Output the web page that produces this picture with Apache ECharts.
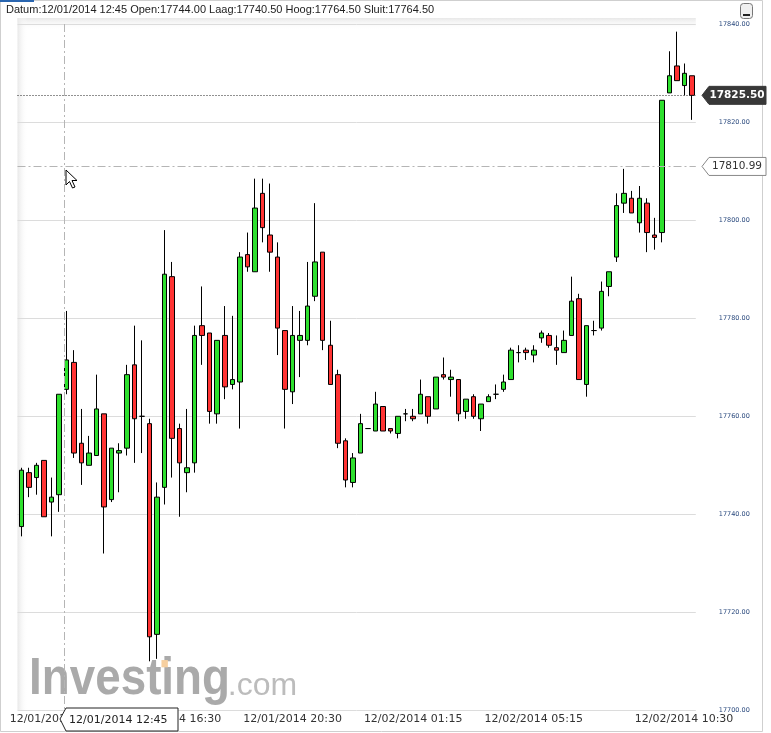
<!DOCTYPE html>
<html><head><meta charset="utf-8">
<script src="https://cdn.jsdelivr.net/npm/echarts@6/dist/echarts.min.js"></script>
<style>html,body{margin:0;padding:0;background:#fff}#c{width:771px;height:733px}</style>
</head><body><div id="c"></div>
<script>
// ---- data ----
const opens  = [17737.5,17748.5,17747.5,17751,17742.5,17744,17765.5,17771,17754.5,17750,
                17752,17760.5,17743,17752.5,17753.5,17770.5,17760,17758.5,17715.5,17745.5,
                17788.5,17757.5,17748.5,17750.5,17778.5,17777,17760.5,17776.5,17766.5,17767,
                17793,17789.5,17805.5,17797,17792.5,17777.5,17765,17775.5,17775.5,17784.5,
                17793.5,17774.5,17768.5,17755,17746.5,17752.5,17757.5,17757,17762,17757.5,
                17756.5,17760.5,17760,17760.5,17764,17761.5,17768.5,17767.5,17767.5,17761,
                17764,17759.5,17763,17764.5,17765.5,17767.5,17773,17773.5,17772.5,17776,
                17776.5,17774,17773,17776.5,17784,17766.5,17777.5,17778,17786.5,17792.5,
                17803.5,17804.5,17799.5,17803.5,17797,17797.5,17826,17831.5,17827.5,17829.5];
const closes = [17749,17745.5,17750,17739.5,17743.5,17764.5,17771.5,17752.5,17750.5,17752.5,
                17761.5,17741.5,17753.5,17753,17768.5,17759.5,17760,17715,17743.5,17789,
                17755.5,17750.5,17749.5,17776.5,17776.5,17761,17775.5,17766,17767.5,17792.5,
                17790.5,17802.5,17798.5,17793.5,17778,17765.5,17776.5,17776.5,17782.5,17791.5,
                17775.5,17766.5,17754.5,17747,17751.5,17758.5,17757.5,17762.5,17757,17757,
                17760,17760.5,17759.5,17764.5,17760,17768,17768,17768,17760.5,17763.5,
                17760,17762.5,17764,17764.5,17767,17773.5,17773,17773,17773.5,17777,
                17774.5,17773.5,17775.5,17783.5,17767.5,17778.5,17777.5,17785.5,17789.5,17803,
                17805.5,17801.5,17804.5,17797.5,17796.5,17824.5,17829.5,17828.5,17830,17825.5];
const lows   = [17735.5,17743.5,17744,17739.5,17735.5,17740.5,17764.5,17751.5,17746,17750,
                17752,17732,17742.5,17744.5,17752,17750.5,17752.5,17710,17710.5,17742,
                17747.5,17739.5,17744.5,17748.5,17770.5,17758.5,17758.5,17763.5,17765.5,17757.5,
                17789.5,17789.5,17795.5,17789.5,17772.5,17757.5,17762.5,17768,17774.5,17783.5,
                17773.5,17766.5,17753.5,17745.5,17745.5,17752.5,17757.5,17757,17757,17756.5,
                17755.5,17759,17759,17760.5,17758.5,17761.5,17767.5,17764,17759,17759.5,
                17759.5,17757,17763,17763.5,17765,17767.5,17771,17771.5,17771,17775,
                17774,17770.5,17773,17776.5,17767.5,17764,17776.5,17777.5,17784.5,17791.5,
                17801.5,17801.5,17797.5,17793.5,17794,17795.5,17826,17828.5,17825.5,17820.5];
const highs  = [17749.5,17749.5,17750.5,17751,17747.5,17764.5,17781.5,17773.5,17761.5,17756,
                17768.5,17760.5,17753.5,17754.5,17770.5,17778.5,17775.5,17759.5,17746.5,17798,
                17791.5,17758.5,17761.5,17778.5,17786.5,17777,17775.5,17782.5,17780.5,17793.5,
                17797.5,17808.5,17808.5,17807.5,17795.5,17777.5,17782.5,17781.5,17791.5,17803.5,
                17793.5,17779.5,17769.5,17755.5,17752.5,17760.5,17757.5,17765,17762,17757.5,
                17760,17761.5,17761.5,17767.5,17764,17768,17772,17769.5,17767.5,17763.5,
                17764.5,17762.5,17764.5,17766.5,17768.5,17774,17774.5,17774,17774.5,17777.5,
                17777,17776.5,17777.5,17788.5,17785,17778.5,17779.5,17787.5,17789.5,17805.5,
                17810.5,17806,17807,17804.5,17800.5,17824.5,17834.5,17838.5,17832,17829.5];
// 15-minute bars; session break 23:15-23:45
const sessions = [{date:'12/01/2014', h:11, m:30, n:47}, {date:'12/02/2014', h:0, m:0, n:43}];
const labelIndices = [5, 20, 36, 52, 68, 89];
const yTicks = [17700, 17720, 17740, 17760, 17780, 17800, 17820, 17840];
const lastPrice = 17825.50;
const crossPrice = 17810.99;
const headerText = 'Datum:12/01/2014 12:45 Open:17744.00 Laag:17740.50 Hoog:17764.50 Sluit:17764.50';
const pointerLabel = '12/01/2014 12:45';

function pad(v){return (v<10?'0':'')+v;}
const categories = [];
sessions.forEach(s => {
  for (let k = 0; k < s.n; k++) {
    const t = s.h*60 + s.m + 15*k;
    categories.push(s.date + ' ' + pad(Math.floor(t/60)) + ':' + pad(t%60));
  }
});
const candleData = opens.map((o,i) => [o, closes[i], lows[i], highs[i]]);

const chart = echarts.init(document.getElementById('c'), null, {renderer:'canvas'});
chart.setOption({
  animation: false,
  backgroundColor: '#fff',
  grid: {left: 17.5, right: 75.2, top: 24.3, bottom: 22.7, containLabel: false},
  xAxis: {
    type: 'category', data: categories, boundaryGap: true,
    axisLine: {show: false}, axisTick: {show: false}, splitLine: {show: false},
    axisLabel: {
      interval: (idx) => labelIndices.indexOf(idx) >= 0,
      margin: 3, color: '#333', fontFamily: 'DejaVu Sans', fontSize: 11,
      formatter: (v, idx) => idx === labelIndices[labelIndices.length-1] ? '{r|' + v + '}' : '{n|' + v + '}',
      rich: {n: {fontFamily:'DejaVu Sans', fontSize: 11, color:'#333'},
             r: {fontFamily:'DejaVu Sans', fontSize: 11, color:'#333', padding:[0,16,0,0]}}
    }
  },
  yAxis: {
    type: 'value', position: 'right', min: yTicks[0], max: yTicks[yTicks.length-1], interval: 20,
    axisLine: {show: false}, axisTick: {show: false},
    splitLine: {show: true, lineStyle: {color: '#dcdcdc', width: 1}},
    axisLabel: {margin: 23, color: '#2b4a7e', fontFamily: 'DejaVu Sans', fontSize: 6.5,
                formatter: v => v.toFixed(2)}
  },
  series: [{
    type: 'candlestick', data: candleData, barWidth: 5,
    itemStyle: {color: '#2ee02e', color0: '#ff3333', borderColor: '#000', borderColor0: '#000', borderColorDoji: '#000', borderWidth: 1},
    markLine: {
      silent: true, symbol: ['none','none'], label: {show: false}, animation: false,
      data: [
        {yAxis: lastPrice, lineStyle: {color: '#222', type: [1,2], width: 1}},
        {yAxis: crossPrice, lineStyle: {color: '#b5b5b5', type: [8,3,2,3], width: 1}}
      ]
    }
  }]
});

// ---- decorations ----
const yLast = chart.convertToPixel({yAxisIndex: 0}, lastPrice);
const yCross = chart.convertToPixel({yAxisIndex: 0}, crossPrice);
const plotRight = chart.convertToPixel({xAxisIndex: 0}, categories[categories.length-1]) + 3.77;
const logoSize = 52, logoScale = 0.88, logoX = 26, logoBase = 698;
const ctx = document.createElement('canvas').getContext('2d');
ctx.font = 'bold ' + logoSize + 'px "Liberation Sans"';
const wInvest = ctx.measureText('Invest').width * logoScale;
const wInvesting = ctx.measureText('Investing').width * logoScale;

function marker(y, dark, text) {
  return {
    type: 'group', z: 20,
    children: [
      {type: 'polygon', shape: {points: [[702, y], [709, y-9], [766, y-9], [766, y+9], [709, y+9]]},
       style: {fill: dark ? '#383838' : '#fff', stroke: dark ? '#383838' : '#888', lineWidth: 1}},
      {type: 'text', x: 737, y: y, style: {text: text, fill: dark ? '#fff' : '#333',
        font: (dark ? 'bold ' : '') + '10.5px "DejaVu Sans"', textAlign: 'center', textVerticalAlign: 'middle'}}
    ]
  };
}

chart.setOption({
  graphic: [
    // frame
    {type: 'rect', z: -10, shape: {x: 0.5, y: 0.5, width: 762, height: 731}, style: {fill: 'none', stroke: '#cfcfcf', lineWidth: 1}},
    {type: 'line', z: -9, shape: {x1: 0, y1: 1, x2: 34, y2: 1}, style: {stroke: '#2a66b0', lineWidth: 2}},
    // plot background shading
    {type: 'rect', z: -8, shape: {x: 17.5, y: 18, width: plotRight - 17.5, height: 12},
     style: {fill: new echarts.graphic.LinearGradient(0,0,0,1,[{offset:0,color:'#e8e8e8'},{offset:1,color:'rgba(255,255,255,0)'}])}},
    {type: 'rect', z: -8, shape: {x: 17.5, y: 18, width: 10, height: 692},
     style: {fill: new echarts.graphic.LinearGradient(0,0,1,0,[{offset:0,color:'#e8e8e8'},{offset:1,color:'rgba(255,255,255,0)'}])}},
    // header
    {type: 'text', x: 6, y: 10, style: {text: headerText, font: '11px "Liberation Sans"', fill: '#222', textVerticalAlign: 'middle'}},
    // minimize button
    {type: 'rect', shape: {x: 740.5, y: 3.5, width: 12, height: 15, r: 3}, style: {fill: '#f0f0f0', stroke: '#777', lineWidth: 1}},
    {type: 'line', shape: {x1: 743, y1: 15, x2: 750, y2: 15}, style: {stroke: '#222', lineWidth: 2}},
    // watermark logo
    {type: 'text', z: -5, x: logoX, y: logoBase - 0.36*logoSize, scaleX: logoScale, originX: logoX,
     style: {text: 'Investing', font: 'bold ' + logoSize + 'px "Liberation Sans"', fill: '#aaaaaa', textVerticalAlign: 'middle'}},
    {type: 'rect', z: -4, shape: {x: logoX + wInvest + logoSize*0.07*logoScale, y: logoBase - logoSize*0.73, width: logoSize*0.14*logoScale, height: logoSize*0.14}, style: {fill: '#f6cf9f'}},
    {type: 'text', z: -5, x: logoX + wInvesting + 1, y: logoBase - 0.36*32, style: {text: '.com', font: '32px "Liberation Sans"', fill: '#bcbcbc', textVerticalAlign: 'middle'}},
    // crosshair vertical
    {type: 'line', z: 5, shape: {x1: 64.5, y1: 24, x2: 64.5, y2: 710}, style: {stroke: '#b5b5b5', lineWidth: 1, lineDash: [8,3,2,3]}},
    // price markers
    marker(yLast, true, lastPrice.toFixed(2)),
    marker(yCross, false, crossPrice.toFixed(2)),
    // x pointer label
    {type: 'polygon', z: 20, shape: {points: [[60, 719], [66, 708], [178, 708], [178, 731], [66, 731]]},
     style: {fill: '#fff', stroke: '#222', lineWidth: 1}},
    {type: 'text', z: 21, x: 69, y: 720, style: {text: pointerLabel, font: '11px "DejaVu Sans"', fill: '#222', textVerticalAlign: 'middle'}},
    // mouse cursor
    {type: 'polygon', z: 30, x: 66, y: 170, shape: {points: [[0,0],[0,15],[3.5,11.5],[6.5,18],[9,17],[6,10.5],[11,10.5]]},
     style: {fill: '#fff', stroke: '#000', lineWidth: 1}}
  ]
});
</script>
</body></html>
